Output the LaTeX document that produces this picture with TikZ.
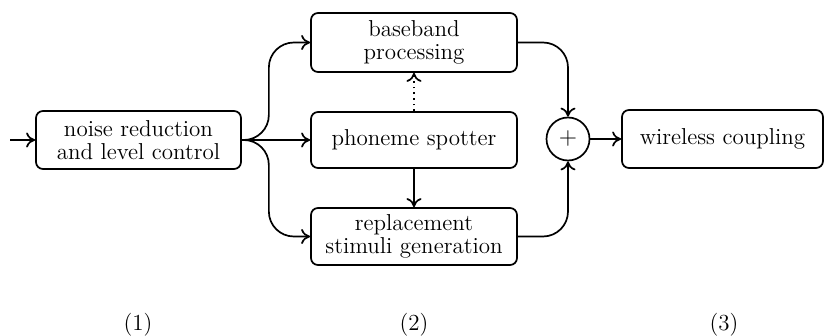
\documentclass[tikz,border=0pt]{standalone}
\usetikzlibrary{arrows.meta}
\begin{document}
\begin{tikzpicture}[x=0.5pt,y=-0.5pt,
  font=\fontsize{11.5}{11.6}\selectfont,
  line width=0.85pt,
  >={To[length=4.5pt,width=7.5pt]},
  blk/.style={draw, rounded corners=3.5pt, align=center, inner sep=0pt,
              minimum width=103pt, minimum height=29pt},
  sumnode/.style={draw, circle, inner sep=0pt, minimum size=21.5pt},
  flow/.style={->, rounded corners=12.5pt},
  stagelabel/.style={inner sep=0pt}]
\useasboundingbox (0,0) rectangle (824,336);

% blocks
\node[blk, minimum width=102.5pt] (nr) at (138.5,140) {noise reduction\\and level control};
\node[blk, minimum height=29.5pt] (bb) at (414,42.5) {baseband\\processing};
\node[blk, minimum height=28pt] (ps) at (414,140) {phoneme spotter};
\node[blk, minimum height=28.5pt] (rs) at (414,236.5) {replacement\\stimuli generation};
\node[sumnode] (sum) at (568,139) {$+$};
\node[blk, minimum width=100.5pt] (wc) at (722.5,139) {wireless coupling};
\coordinate (in) at (10,140);

% connectors
\draw[->] (in) -- (nr);
\draw[flow] (nr.east) -- ++(27,0) |- (bb);
\draw[->] (nr) -- (ps);
\draw[flow] (nr.east) -- ++(27,0) |- (rs);
\draw[->, dotted] (ps) -- (bb);
\draw[->] (ps) -- (rs);
\draw[flow] (bb) -| (sum);
\draw[flow] (rs) -| (sum);
\draw[->] (sum) -- (wc);

% stage labels
\node[stagelabel] (l1) at (138,325) {(1)};
\node[stagelabel] (l2) at (414,325) {(2)};
\node[stagelabel] (l3) at (724,325) {(3)};
\end{tikzpicture}
\end{document}
